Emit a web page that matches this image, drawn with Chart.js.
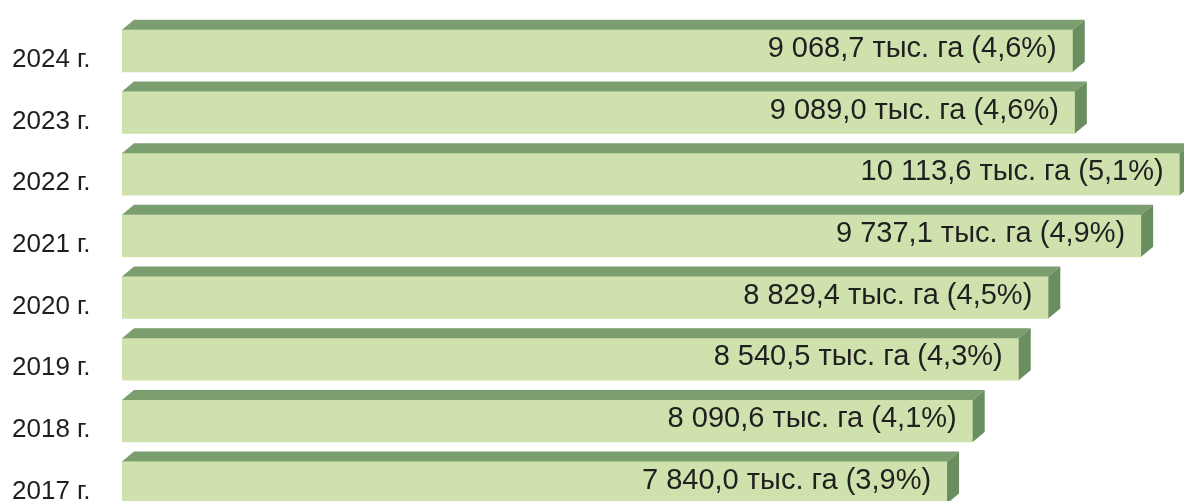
<!DOCTYPE html>
<html lang="ru">
<head>
<meta charset="utf-8">
<title>Площадь, тыс. га</title>
<script src="https://cdn.jsdelivr.net/npm/chart.js@4/dist/chart.umd.min.js"></script>
<style>
  html, body { margin: 0; padding: 0; background: #ffffff; overflow: hidden; }
  #wrap { width: 1184px; height: 501px; overflow: hidden; position: relative; }
  canvas { display: block; }
</style>
</head>
<body>
<div id="wrap"><canvas id="chart" width="1184" height="532"></canvas></div>
<script>
// Years (top to bottom), area in thousand hectares and share in percent
const categories = ['2024 г.', '2023 г.', '2022 г.', '2021 г.', '2020 г.', '2019 г.', '2018 г.', '2017 г.'];
const areaValues = [9068.7, 9089.0, 10113.6, 9737.1, 8829.4, 8540.5, 8090.6, 7840.0];
const shareValues = [4.6, 4.6, 5.1, 4.9, 4.5, 4.3, 4.1, 3.9];
const unitLabel = 'тыс. га';

// Value axis range (hidden axis)
const X_MIN = -225;
const X_MAX = 10156;

const FONT = '"Liberation Sans", Arial, "DejaVu Sans", sans-serif';
const FRONT = '#cfe1ad';
const TOP = '#7b9e6e';
const SIDE = '#6a8e60';
const DEPTH_X = 12;
const DEPTH_Y = 10;

function formatNumber(v) {
  const parts = v.toFixed(1).split('.');
  return parts[0].replace(/\B(?=(\d{3})+(?!\d))/g, ' ') + ',' + parts[1];
}
function formatShare(v) {
  return v.toFixed(1).replace('.', ',') + '%';
}

// Draws the top and right faces of each bar plus the value label inside it
const bar3d = {
  id: 'bar3d',
  afterDatasetsDraw(chart) {
    const ctx = chart.ctx;
    const meta = chart.getDatasetMeta(0);
    ctx.save();
    meta.data.forEach((el, i) => {
      const p = el.getProps(['x', 'y', 'base', 'height'], true);
      const x0 = Math.min(p.base, p.x);
      const x1 = Math.max(p.base, p.x);
      const top = p.y - p.height / 2;
      const bottom = p.y + p.height / 2;

      // top face
      ctx.fillStyle = TOP;
      ctx.beginPath();
      ctx.moveTo(x0, top);
      ctx.lineTo(x0 + DEPTH_X, top - DEPTH_Y);
      ctx.lineTo(x1 + DEPTH_X, top - DEPTH_Y);
      ctx.lineTo(x1, top);
      ctx.closePath();
      ctx.fill();

      // right face
      ctx.fillStyle = SIDE;
      ctx.beginPath();
      ctx.moveTo(x1, top);
      ctx.lineTo(x1 + DEPTH_X, top - DEPTH_Y);
      ctx.lineTo(x1 + DEPTH_X, bottom - DEPTH_Y);
      ctx.lineTo(x1, bottom);
      ctx.closePath();
      ctx.fill();

      // value label
      const text = formatNumber(areaValues[i]) + ' ' + unitLabel + ' (' + formatShare(shareValues[i]) + ')';
      ctx.fillStyle = '#1f1f1f';
      ctx.font = '29px ' + FONT;
      ctx.textAlign = 'right';
      ctx.textBaseline = 'middle';
      ctx.fillText(text, x1 - 16, p.y - 2);
    });
    ctx.restore();
  }
};

new Chart(document.getElementById('chart'), {
  type: 'bar',
  data: {
    labels: categories,
    datasets: [{
      data: areaValues,
      base: X_MIN,
      backgroundColor: FRONT,
      borderWidth: 0,
      barThickness: 42
    }]
  },
  options: {
    indexAxis: 'y',
    responsive: false,
    animation: false,
    layout: { padding: { left: 12, top: 20, right: 0, bottom: 0 } },
    plugins: {
      legend: { display: false },
      tooltip: { enabled: false }
    },
    scales: {
      x: { display: false, min: X_MIN, max: X_MAX },
      y: {
        grid: { display: false },
        border: { display: false },
        afterFit(scale) { scale.width = 110; },
        ticks: {
          crossAlign: 'far',
          labelOffset: 9,
          color: '#1f1f1f',
          font: { family: FONT, size: 26 }
        }
      }
    }
  },
  plugins: [bar3d]
});
</script>
</body>
</html>
